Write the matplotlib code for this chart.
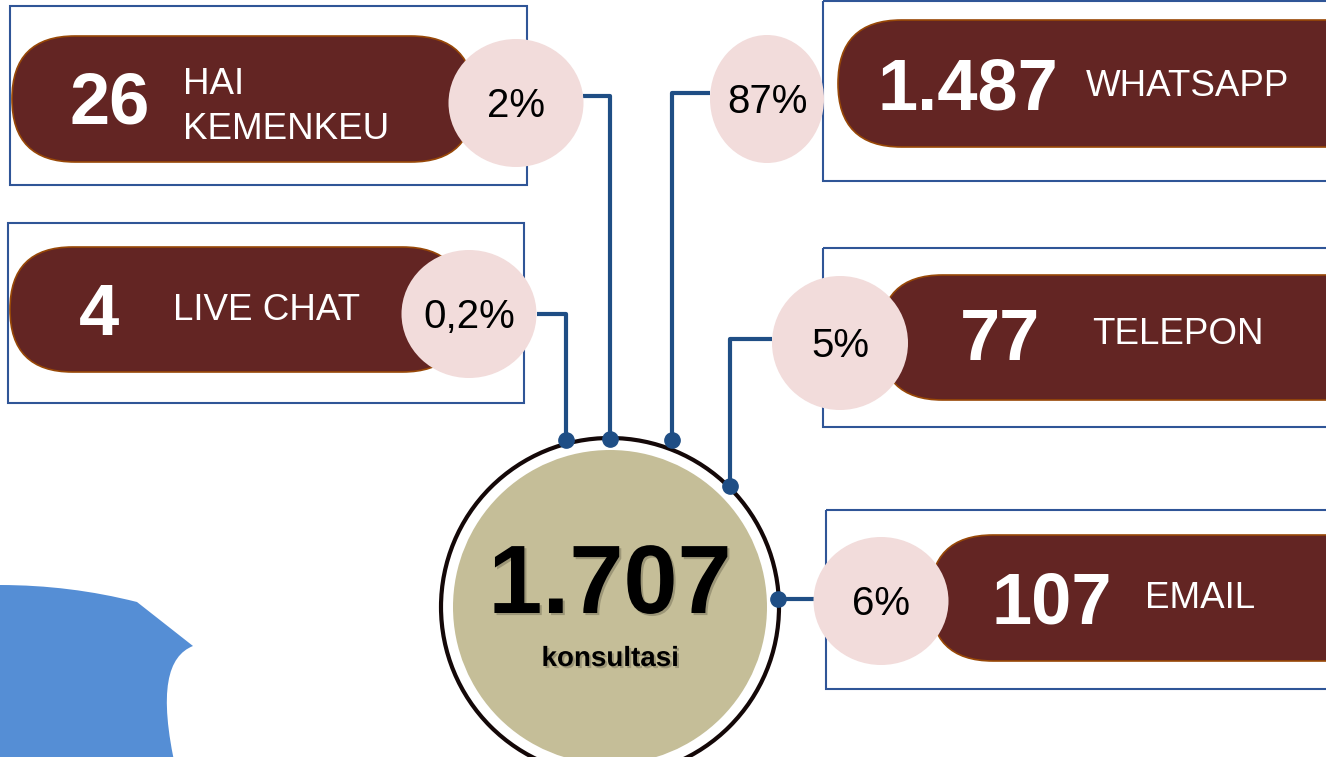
import matplotlib.pyplot as plt
from matplotlib.patches import Rectangle, FancyBboxPatch, Ellipse, Circle, PathPatch
from matplotlib.path import Path
import matplotlib.patheffects as pe

plt.rcParams['font.family'] = ['Liberation Sans', 'DejaVu Sans']

# data
channels = ["HAI\nKEMENKEU", "LIVE CHAT", "WHATSAPP", "TELEPON", "EMAIL"]
counts = [26, 4, 1487, 77, 107]
percents = ["2%", "0,2%", "87%", "5%", "6%"]
total = 1707
total_label = "konsultasi"

# layout in pixel units (x, y from top-left)
frames = [(10, 6, 517, 179), (8, 223, 516, 180), (823, 1, 560, 180),
          (823, 248, 560, 179), (826, 510, 560, 179)]
pills = [(12, 36, 462, 126), (10, 247, 455, 125), (838, 20, 560, 127),
         (880, 275, 520, 125), (930, 535, 470, 126)]
bubbles = [(516, 103, 135, 128), (469, 314, 135, 128), (767, 99, 114, 128),
           (840, 343, 136, 134), (881, 601, 135, 128)]
num_pos = [(110, 104), (99, 316), (968, 90), (1000, 341), (1052, 604)]
lab_pos = [(183, 107), (173, 310), (1086, 86), (1092, 335), (1145, 598)]
# connector paths: bubble edge -> elbow -> dot on the ring
wires = [[(583, 96), (610, 96), (610, 439)],
         [(537, 314), (566, 314), (566, 440)],
         [(710, 93), (672, 93), (672, 440)],
         [(772, 339), (730, 339), (730, 486)],
         [(814, 599), (778, 599)]]

maroon = "#632523"
pink = "#F2DCDB"
navy = "#1F4E85"
frame_c = "#2F5597"

fig = plt.figure(figsize=(13.26, 7.57), dpi=100)
ax = fig.add_axes([0, 0, 1, 1])
ax.set_xlim(0, 1326)
ax.set_ylim(757, 0)
ax.axis("off")

# blue decoration bottom-left
verts = [(0, 585), (70, 585), (137, 602), (193, 646),
         (168, 656), (158, 690), (176, 770), (0, 770), (0, 585)]
codes = [Path.MOVETO, Path.CURVE3, Path.CURVE3, Path.LINETO,
         Path.CURVE4, Path.CURVE4, Path.CURVE4, Path.LINETO, Path.CLOSEPOLY]
ax.add_patch(PathPatch(Path(verts, codes), facecolor="#558ED5", edgecolor="none", zorder=1))

# connectors
for w in wires:
    xs = [p[0] for p in w]
    ys = [p[1] for p in w]
    ax.plot(xs, ys, color=navy, lw=3, zorder=2, solid_capstyle="butt")
    ax.plot(xs[-1], ys[-1], "o", color=navy, ms=11, zorder=6)

# central circle
ax.add_patch(Circle((610, 607), 169, facecolor="white", edgecolor="#140808", lw=3, zorder=4))
ax.add_patch(Circle((610, 607), 157, facecolor="#C5BE98", edgecolor="none", zorder=5))
shadow = [pe.withSimplePatchShadow(offset=(1.5, -1.5), shadow_rgbFace="#6b6650", alpha=0.45)]
ax.text(610, 588, f"{total:,}".replace(",", "."), fontsize=70, fontweight="bold",
        ha="center", va="center", color="black", zorder=7, path_effects=shadow)
ax.text(610, 659, total_label, fontsize=20, fontweight="bold",
        ha="center", va="center", color="black", zorder=7, path_effects=shadow)

for i in range(len(channels)):
    fx, fy, fw, fh = frames[i]
    ax.add_patch(Rectangle((fx, fy), fw, fh, fill=False, edgecolor=frame_c, lw=1.5, zorder=2))
    px, py, pw, ph = pills[i]
    ax.add_patch(FancyBboxPatch((px, py), pw, ph,
                                boxstyle=f"round,pad=0,rounding_size={ph / 2}",
                                facecolor=maroon, edgecolor="#984807", lw=1.2, zorder=3))
    bx, by, bw, bh = bubbles[i]
    ax.add_patch(Ellipse((bx, by), bw, bh, facecolor=pink, edgecolor="none", zorder=4))
    ax.text(bx, by + 3, percents[i], fontsize=29, ha="center", va="center",
            color="black", zorder=5)
    nx, ny = num_pos[i]
    ax.text(nx, ny, f"{counts[i]:,}".replace(",", "."), fontsize=52, fontweight="bold",
            ha="center", va="center", color="white", zorder=5)
    lx, ly = lab_pos[i]
    ax.text(lx, ly, channels[i], fontsize=26.5, ha="left", va="center",
            color="white", zorder=5, linespacing=1.35)

fig.savefig("out.png", dpi=100)
